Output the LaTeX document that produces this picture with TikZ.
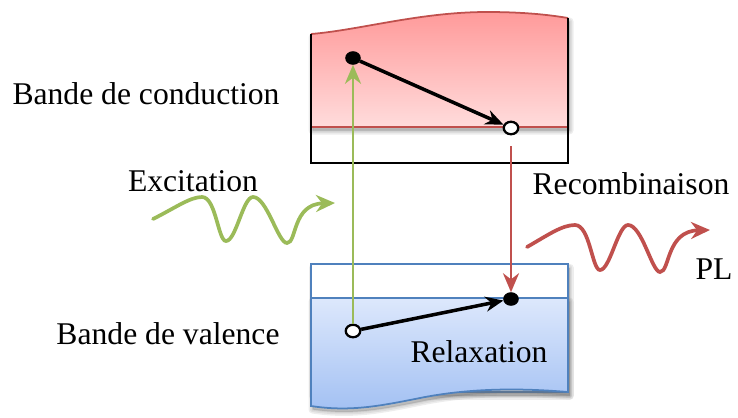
\documentclass[tikz,border=0pt]{standalone}
\usepackage{fontspec}
\setmainfont{Liberation Serif}
\usetikzlibrary{arrows.meta,positioning,calc,shapes.geometric}
\definecolor{CbLine}{HTML}{C0504D}
\definecolor{CbTop}{HTML}{FF9A9A}
\definecolor{CbBot}{HTML}{FFDCDC}
\definecolor{VbLine}{HTML}{4F81BD}
\definecolor{VbTop}{HTML}{DDE8FC}
\definecolor{VbBot}{HTML}{A2C0F3}
\definecolor{Exc}{HTML}{9BBB59}
\definecolor{Shade}{HTML}{6F6F6F}
\tikzset{
  bandlabel/.style={font=\fontsize{18}{20}\selectfont,inner sep=0pt},
  electron/.style={ellipse,draw=black,fill=black,line width=.6pt,minimum width=.29cm,minimum height=.25cm,inner sep=0pt},
  hole/.style={ellipse,draw=black,fill=white,line width=1.3pt,minimum width=.29cm,minimum height=.25cm,inner sep=0pt},
  jump/.style={-{Stealth[length=3.6mm,width=3mm]},line width=2pt},
  excline/.style={-{Stealth[length=3.8mm,width=3.2mm]},draw=Exc,line width=1.7pt},
  recline/.style={-{Stealth[length=3.8mm,width=3.2mm]},draw=CbLine,line width=1.7pt},
  photon/.style={-{Stealth[length=3.8mm,width=3.4mm]},line width=2.1pt,line cap=round},
  softshadow/.style={fill=Shade,draw=Shade,opacity=.12,line join=round}
}
\newcommand{\cbpath}{(311,34) .. controls (360,30) and (420,12) .. (487,12) .. controls (525,12) and (550,15) .. (568,18) -- (568,127) -- (311,127) -- cycle}
\newcommand{\vbpath}{(311,298) -- (568,298) -- (568,392) .. controls (520,388) and (470,388) .. (420,398) .. controls (380,406) and (350,412) .. (311,406) -- cycle}
\begin{document}
\begin{tikzpicture}[x=.02cm,y=-.02cm]
  \useasboundingbox (0,0) rectangle (738,417);

  % conduction band
  \fill[white] (311,34) rectangle (568,163);
  \foreach \w in {8,5,2}
    \path[softshadow,line width=\w*.02cm,shift={(1.5,3.5)}] \cbpath;
  \shade[top color=CbTop,bottom color=CbBot] \cbpath;
  \draw[CbLine,line width=1pt] (311,34) .. controls (360,30) and (420,12) .. (487,12) .. controls (525,12) and (550,15) .. (568,18);
  \draw[CbLine,line width=1pt] (311,127) -- (568,127);
  \draw[black,line width=.8pt] (311,34) -- (311,163) -- (568,163) -- (568,18);

  % valence band
  \foreach \w in {8,5,2}
    \path[softshadow,line width=\w*.02cm,shift={(1.5,3.5)}] (311,264) rectangle (568,392);
  \filldraw[fill=white,draw=VbLine,line width=1pt] (311,264) rectangle (568,392);
  \foreach \w in {8,5,2}
    \path[softshadow,line width=\w*.02cm,shift={(1.5,3.5)}] \vbpath;
  \shade[top color=VbTop,bottom color=VbBot] \vbpath;
  \draw[VbLine,line width=1pt] \vbpath;

  \node[electron] (e1) at (353,58) {};
  \node[hole] (h1) at (511,128) {};
  \node[electron] (e2) at (511,299) {};
  \node[hole] (h2) at (353,331) {};

  \draw[jump] (e1) -- (h1);
  \draw[jump] (h2) -- (e2);
  \draw[excline] (h2) -- (e1);
  \draw[recline,shorten <=.22cm] (h1) -- (e2);

  % photons
  \draw[photon,Exc] (153,219) .. controls (175,208) and (190,197) .. (202,197)
    .. controls (216,197) and (218,241) .. (226,241)
    .. controls (236,241) and (243,197) .. (253,197)
    .. controls (267,197) and (278,243) .. (287,243)
    .. controls (297,243) and (292,204) .. (335,203);
  \draw[photon,CbLine] (527,247) .. controls (548,235) and (562,225) .. (575,225)
    .. controls (590,225) and (592,270) .. (600,270)
    .. controls (610,270) and (618,225) .. (628,225)
    .. controls (642,225) and (652,272) .. (660,272)
    .. controls (670,272) and (666,231) .. (710,230);

  \node[bandlabel] (cb) at (146,94) {Bande de conduction};
  \node[bandlabel] (vb) at (168,334) {Bande de valence};
  \node[bandlabel] (exc) at (193,181) {Excitation};
  \node[bandlabel] (rec) at (631,184) {Recombinaison};
  \node[bandlabel] (pl) at (714,269) {PL};
  \node[bandlabel] (rel) at (479,352) {Relaxation};
\end{tikzpicture}
\end{document}
